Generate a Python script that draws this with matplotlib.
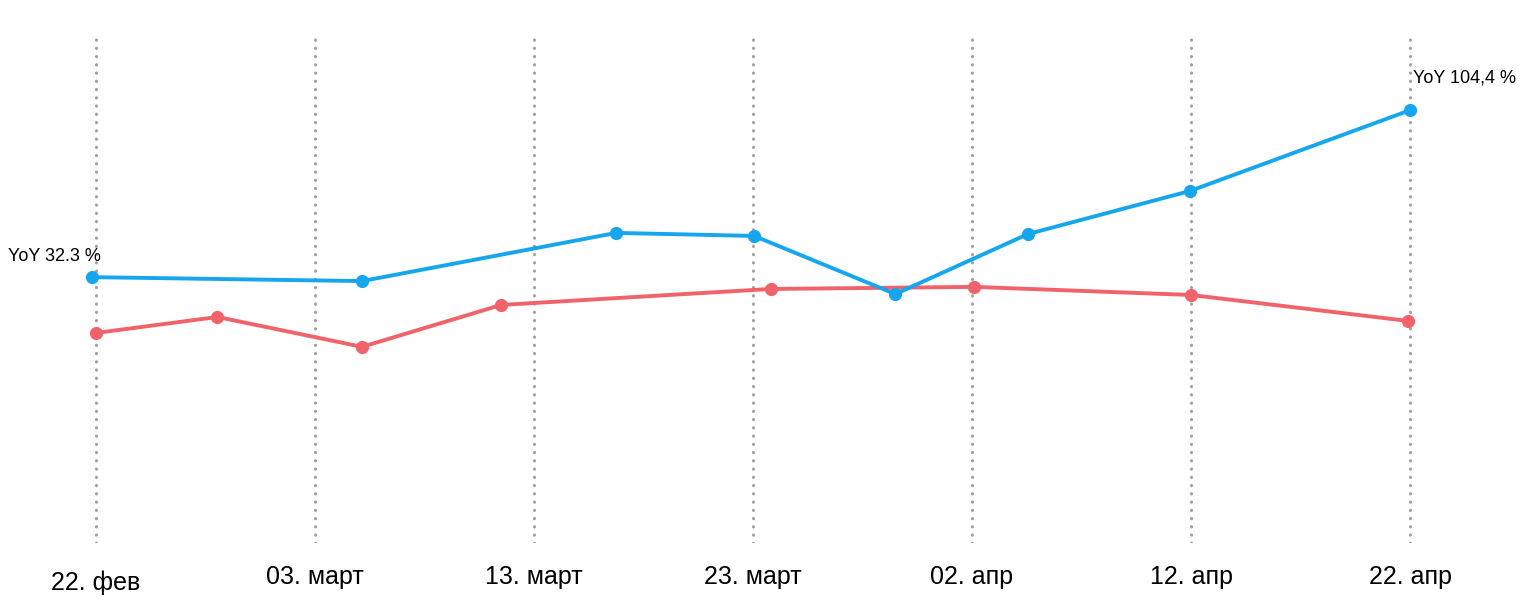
import matplotlib
matplotlib.use("Agg")
import matplotlib.pyplot as plt
import matplotlib.transforms as mtransforms

# x positions are days after 22 Feb
tick_days = [0, 10, 20, 30, 40, 50, 60]
tick_labels = ["22. фев", "03. март", "13. март", "23. март", "02. апр", "12. апр", "22. апр"]

blue_days = [-0.2, 12.15, 23.75, 30.05, 36.5, 42.55, 49.95, 60]
blue_vals = [32.3, 30.6, 51.4, 50.1, 25.0, 50.9, 69.5, 104.4]

red_days = [0, 5.55, 12.15, 18.5, 30.8, 40.1, 50.0, 59.9]
red_vals = [8.2, 15.1, 2.2, 20.3, 27.2, 28.1, 24.6, 13.4]

blue_color = "#16a6ee"
red_color = "#f0636a"

fig = plt.figure(figsize=(15.36, 6.14), dpi=100)
ax = fig.add_axes([0, 71 / 614, 1, 506 / 614])

ax.plot(blue_days, blue_vals, color=blue_color, lw=2.8, marker="o", markersize=8.5,
        solid_capstyle="round", zorder=3)
ax.plot(red_days, red_vals, color=red_color, lw=2.8, marker="o", markersize=8.5,
        solid_capstyle="round", zorder=2)

ax.set_xlim(-4.38, 65.75)
ax.set_ylim(-82.5, 136)

ax.set_xticks(tick_days)
ax.set_xticklabels(tick_labels, fontsize=18, family=["Liberation Sans Narrow", "Liberation Sans"])
ax.tick_params(axis="x", length=0, pad=16)
ax.set_yticks([])
ax.grid(axis="x", color="#a0a0a0", lw=2.2, linestyle=(0, (0.1, 2.6)))
for gl in ax.get_xgridlines():
    gl.set_dash_capstyle("round")
for s in ax.spines.values():
    s.set_visible(False)

# first label sits a little lower
lab0 = ax.get_xticklabels()[0]
lab0.set_transform(lab0.get_transform() + mtransforms.ScaledTranslation(0, -5 / 100, fig.dpi_scale_trans))

ax.annotate("YoY 32.3 %", (blue_days[0], blue_vals[0]), xytext=(-84, 12),
            textcoords="offset pixels", fontsize=13, family="Liberation Sans",
            ha="left", va="bottom")
ax.annotate("YoY 104,4 %", (blue_days[-1], blue_vals[-1]), xytext=(3, 24),
            textcoords="offset pixels", fontsize=13, family="Liberation Sans",
            ha="left", va="bottom")

fig.savefig("out.png", dpi=100)
